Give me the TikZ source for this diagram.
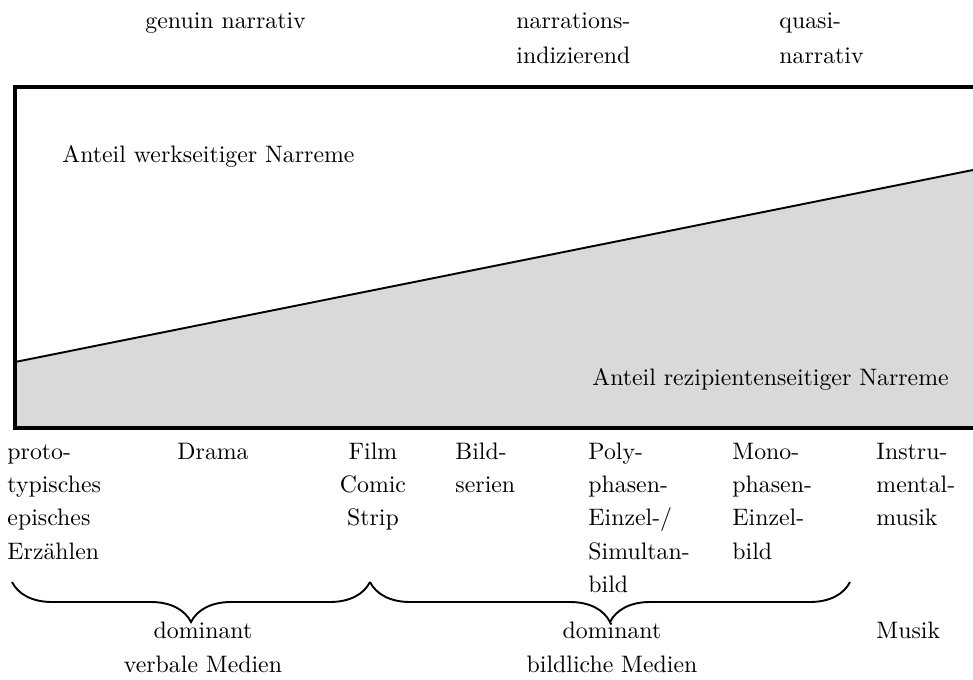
\documentclass[tikz,border=0pt]{standalone}
\usetikzlibrary{decorations.pathreplacing}
\newcommand{\stackL}[2][14]{\parbox[t]{100pt}{\raggedright\fontsize{10}{#1}\selectfont #2}}
\newcommand{\stackC}[2][14]{\parbox[t]{120pt}{\centering\fontsize{10}{#1}\selectfont #2}}
\definecolor{fillgray}{HTML}{D9D9D9}
\tikzset{
  lbl/.style={anchor=base west, inner sep=0pt},
  lblc/.style={anchor=base, inner sep=0pt},
  frame/.style={line width=1.3pt, line join=miter},
  slant/.style={line width=0.8pt},
  bracestyle/.style={line width=0.8pt, decorate, decoration={brace, amplitude=16.8pt}}
}
\begin{document}
\begin{tikzpicture}[x=0.42pt, y=-0.42pt]
\useasboundingbox (0,0) rectangle (973,680);
% box and shares
\coordinate (sl) at (15,362);
\coordinate (sr) at (990,166.6);
\coordinate (tl) at (15,87);
\coordinate (tr) at (990,87);
\coordinate (bl) at (15,428);
\coordinate (br) at (990,428);
\begin{scope}
\clip (0,0) rectangle (973,680);
\fill[fillgray] (sl) -- (sr) -- (br) -- (bl) -- cycle;
\draw[slant] (sl) -- (sr);
\draw[frame] (tr) -- (tl) -- (bl) -- (br);
\end{scope}
% headings
\node[lbl] (genuin) at (145,29) {genuin narrativ};
\node[lbl] (indiz) at (516,29) {\stackL[14.3pt]{narrations-\\indizierend}};
\node[lbl] (quasi) at (779,29) {\stackL[14.3pt]{quasi-\\narrativ}};
% inner labels
\node[lbl] (werk) at (62,163) {Anteil werkseitiger Narreme};
\node[lbl] (rezi) at (592,385) {Anteil rezipientenseitiger Narreme};
% media labels
\node[lbl] (proto) at (7,459) {\stackL{proto-\\typisches\\episches\\Erz\"ahlen}};
\node[lbl] (drama) at (177,459) {Drama};
\node[lblc] (film) at (373,459) {\stackC{Film\\Comic\\Strip}};
\node[lbl] (bild) at (455,459) {\stackL{Bild-\\serien}};
\node[lbl] (poly) at (588,459) {\stackL{Poly-\\phasen-\\Einzel-/\\Simultan-\\bild}};
\node[lbl] (mono) at (732,459) {\stackL{Mono-\\phasen-\\Einzel-\\bild}};
\node[lbl] (instru) at (876,459) {\stackL{Instru-\\mental-\\musik}};
% braces
\coordinate (b1) at (12,582);
\coordinate (b2) at (370,582);
\coordinate (b3) at (850,582);
\draw[bracestyle] (b2) -- (b1);
\draw[bracestyle] (b3) -- (b2);
% groups
\node[lblc] (verbal) at (203,638) {\stackC[14.3pt]{dominant\\verbale Medien}};
\node[lblc] (bildl) at (612,638) {\stackC[14.3pt]{dominant\\bildliche Medien}};
\node[lbl] (musik) at (876,638) {Musik};
\end{tikzpicture}
\end{document}
